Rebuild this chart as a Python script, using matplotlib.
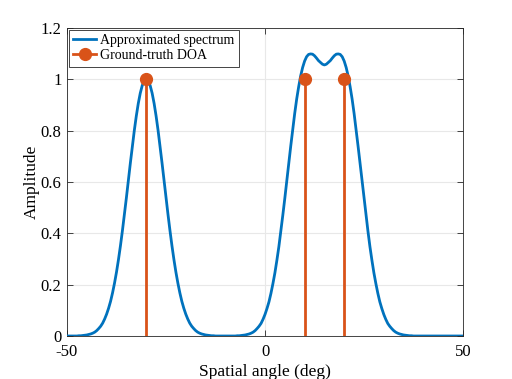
import numpy as np
import matplotlib.pyplot as plt

# spectrum, 0.5 degree steps from -50 to 50
angle = np.arange(-50, 50.25, 0.5)
spectrum = [
    0.000, 0.000, 0.000, 0.000, 0.000, 0.000, 0.001, 0.001, 0.002, 0.003,   # -50
    0.004, 0.006, 0.008, 0.011, 0.015, 0.021, 0.029, 0.038, 0.050, 0.066,   # -45
    0.085, 0.108, 0.135, 0.168, 0.206, 0.249, 0.298, 0.352, 0.411, 0.474,   # -40
    0.539, 0.607, 0.674, 0.739, 0.801, 0.857, 0.906, 0.946, 0.976, 0.994,   # -35
    1.000, 0.994, 0.976, 0.946, 0.906, 0.857, 0.801, 0.739, 0.674, 0.607,   # -30
    0.539, 0.474, 0.411, 0.352, 0.298, 0.249, 0.206, 0.168, 0.135, 0.108,   # -25
    0.085, 0.066, 0.050, 0.038, 0.029, 0.021, 0.015, 0.011, 0.008, 0.006,   # -20
    0.004, 0.003, 0.002, 0.001, 0.001, 0.000, 0.000, 0.000, 0.000, 0.000,   # -15
    0.000, 0.000, 0.000, 0.000, 0.000, 0.000, 0.001, 0.001, 0.002, 0.003,   # -10
    0.004, 0.006, 0.008, 0.011, 0.015, 0.021, 0.029, 0.038, 0.049, 0.065,   # -5
    0.084, 0.107, 0.133, 0.166, 0.204, 0.246, 0.295, 0.348, 0.408, 0.471,   # 0
    0.536, 0.605, 0.673, 0.740, 0.805, 0.867, 0.923, 0.971, 1.013, 1.046,   # 5
    1.071, 1.088, 1.097, 1.099, 1.098, 1.092, 1.083, 1.073, 1.066, 1.059,   # 10
    1.056, 1.059, 1.066, 1.073, 1.083, 1.092, 1.098, 1.099, 1.097, 1.088,   # 15
    1.071, 1.046, 1.013, 0.971, 0.923, 0.867, 0.805, 0.740, 0.673, 0.605,   # 20
    0.536, 0.471, 0.408, 0.348, 0.295, 0.246, 0.204, 0.166, 0.133, 0.107,   # 25
    0.084, 0.065, 0.049, 0.038, 0.029, 0.021, 0.015, 0.011, 0.008, 0.006,   # 30
    0.004, 0.003, 0.002, 0.001, 0.001, 0.000, 0.000, 0.000, 0.000, 0.000,   # 35
    0.000, 0.000, 0.000, 0.000, 0.000, 0.000, 0.000, 0.000, 0.000, 0.000,   # 40
    0.000, 0.000, 0.000, 0.000, 0.000, 0.000, 0.000, 0.000, 0.000, 0.000,   # 45
    0.000,                                                                  # 50
]
doa = [-30, 10, 20]
doa_amp = [1, 1, 1]

x_ticks = [-50, 0, 50]
y_ticks = [0, 0.2, 0.4, 0.6, 0.8, 1.0, 1.2]
y_labels = ['0', '0.2', '0.4', '0.6', '0.8', '1', '1.2']

blue = '#0072BD'
orange = '#D95319'
axcol = '#262626'

plt.rcParams['font.family'] = ['Liberation Serif', 'DejaVu Serif']

fig = plt.figure(figsize=(5.12, 3.79), dpi=100)
ax = fig.add_axes([67 / 512, 1 - 336 / 379, 396 / 512, 308 / 379])

ax.plot(angle, spectrum, color=blue, lw=2, label='Approximated spectrum', zorder=3)
ax.vlines(doa, 0, doa_amp, color=orange, lw=2, zorder=4)
ax.plot(doa, doa_amp, 'o', color=orange, ms=8.5, zorder=5)
# legend handle: line with marker
ax.plot([], [], '-o', color=orange, lw=2, ms=8.5, label='Ground-truth DOA')

ax.set_xlim(-50, 50)
ax.set_ylim(0, 1.2)
ax.set_xticks(x_ticks)
ax.set_xticklabels([str(t) for t in x_ticks])
ax.set_yticks(y_ticks)
ax.set_yticklabels(y_labels)
ax.grid(True, color='#e8e8e8', lw=0.8)
ax.set_axisbelow(True)
for s in ax.spines.values():
    s.set_color(axcol)
    s.set_linewidth(0.6)
ax.tick_params(direction='in', top=True, right=True, length=4, width=0.6,
               colors=axcol, labelsize=12, labelcolor='black')
ax.tick_params(axis='x', pad=6)
ax.tick_params(axis='y', pad=4)

ax.set_xlabel('Spatial angle (deg)', fontsize=12.5, labelpad=2.5)
ax.set_ylabel('Amplitude', fontsize=12.5, labelpad=0.5)

leg = ax.legend(loc='upper left', fontsize=10, fancybox=False, framealpha=1,
                borderpad=0.3, labelspacing=0.15, handlelength=1.65,
                handletextpad=0.3, borderaxespad=0.15)
leg.get_frame().set_edgecolor(axcol)
leg.get_frame().set_linewidth(0.6)

fig.savefig('out.png', dpi=100)
